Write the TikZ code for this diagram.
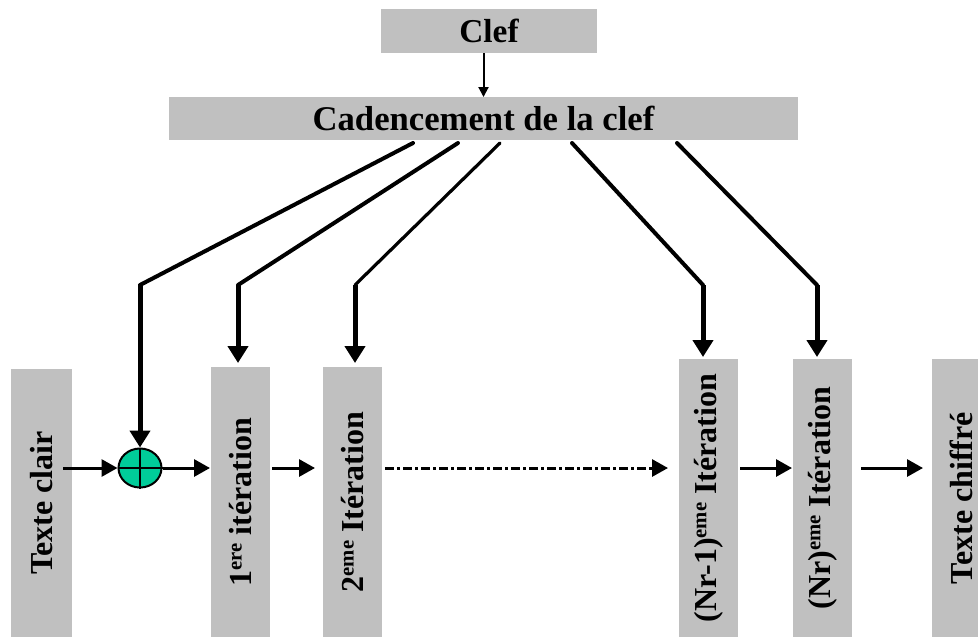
\documentclass[tikz,border=0pt]{standalone}
\usepackage{fontspec}
\setmainfont{Liberation Serif}
\usetikzlibrary{arrows.meta,calc,shapes.geometric}
\definecolor{boxgray}{RGB}{192,192,192}
\definecolor{xorgreen}{RGB}{0,204,153}
% raised, smaller ordinal suffix
\newcommand\expo[1]{\raisebox{0.31em}{\fontsize{15.5pt}{15.5pt}\selectfont #1}}

\begin{document}
\begin{tikzpicture}[x=0.75pt,y=-0.75pt,
  box/.style={fill=boxgray, inner sep=0pt, outer sep=0pt},
  vbox/.style={box, minimum width=44.25pt, font=\fontsize{24pt}{28pt}\selectfont\bfseries},
  keyline/.style={line width=3pt, line cap=round},
  thinkey/.style={line width=2.4pt, line cap=round},
  keyarrow/.style={line width=3.75pt, -{Triangle[width=15pt,length=12.75pt]}},
  flow/.style={line width=2.25pt, -{Triangle[width=12.75pt,length=12pt]}},
  dotflow/.style={flow, dash pattern=on 6.75pt off 2.25pt on 2.25pt off 2.25pt},
  thinarrow/.style={line width=1.5pt, -{Triangle[width=7.5pt,length=7.5pt]}}
]
\useasboundingbox (0,0) rectangle (978,637);
\clip (0,0) rectangle (978,637);

% key boxes
\node[box, minimum width=162pt, minimum height=33pt,
      font=\fontsize{25pt}{28pt}\selectfont\bfseries] (clef) at (489,31) {Clef};
\node[box, minimum width=471.75pt, minimum height=32.25pt,
      font=\fontsize{26pt}{28pt}\selectfont\bfseries] (cad) at (483.5,118.5) {Cadencement de la clef};

% data path boxes
\node[vbox, minimum width=45.75pt, minimum height=201pt] (tc) at (41.5,503) {\rotatebox{90}{Texte clair}};
\node[vbox, minimum height=202.5pt] (it1) at (240.5,502) {\rotatebox{90}{1\expo{ere} itération}};
\node[vbox, minimum height=202.5pt] (it2) at (352.5,502) {\rotatebox{90}{2\expo{eme} Itération}};
\node[vbox, minimum height=208.5pt] (itn1) at (708.5,498) {\rotatebox{90}{(Nr-1)\expo{eme} Itération}};
\node[vbox, minimum height=208.5pt] (itn) at (822.5,498) {\rotatebox{90}{(Nr)\expo{eme} Itération}};
\node[vbox, minimum height=208.5pt] (tch) at (961.5,498) {\rotatebox{90}{Texte chiffré}};

% XOR with the round key
\node[ellipse, draw, line width=1.5pt, fill=xorgreen, minimum width=32.25pt,
      minimum height=29.25pt, inner sep=0pt] (xor) at (140,468) {};
\draw[line width=1.2pt] (xor.north) -- (xor.south);
\draw[line width=1.2pt] (xor.west) -- (xor.east);

% key schedule
\draw[thinarrow] (clef.south -| cad.north) -- (cad.north);

\coordinate (b1) at (140,285);
\coordinate (b2) at (238,285);
\coordinate (b3) at (355,285);
\coordinate (b4) at (703,285);
\coordinate (b5) at (817,285);

\draw[keyline] ($(cad.south west)+(244,3)$) -- (b1);
\draw[keyline] ($(cad.south west)+(289,3)$) -- (b2);
\draw[thinkey] ($(cad.south west)+(331,3)$) -- (b3);
\draw[keyline] ($(cad.south west)+(403,3)$) -- (b4);
\draw[keyline] ($(cad.south west)+(508,3)$) -- (b5);

\draw[keyarrow] (b1) -- (xor.north);
\draw[keyarrow, shorten >=3pt] (b2) -- (b2 |- it1.north);
\draw[keyarrow, shorten >=3pt] (b3) -- (b3 |- it2.north);
\draw[keyarrow, shorten >=1.5pt] (b4) -- (b4 |- itn1.north);
\draw[keyarrow, shorten >=1.5pt] (b5) -- (b5 |- itn.north);

% data flow
\draw[flow] ($(tc.east |- xor)+(-9,0)$) -- (xor.west);
\draw[flow, shorten >=0.75pt] (xor.east) -- (it1.west |- xor);
\draw[flow, shorten <=1.5pt, shorten >=6pt] (it1.east |- xor) -- (it2.west |- xor);
\draw[dotflow, shorten <=2.25pt, shorten >=8.25pt] (it2.east |- xor) -- (itn1.west |- xor);
\draw[flow, shorten <=1.5pt, shorten >=0.75pt] (itn1.east |- xor) -- (itn.west |- xor);
\draw[flow, shorten <=6.75pt, shorten >=6.75pt] (itn.east |- xor) -- (tch.west |- xor);
\end{tikzpicture}
\end{document}
